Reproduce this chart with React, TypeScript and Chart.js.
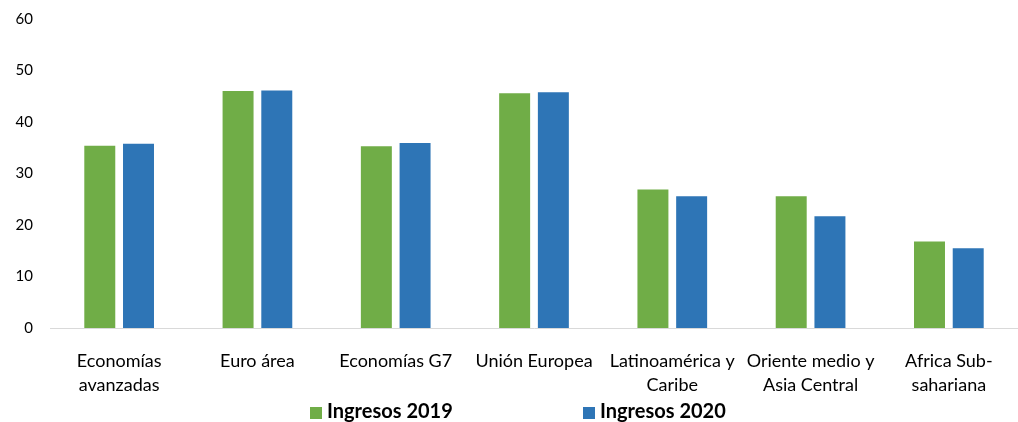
import React, { useEffect, useRef } from "react";
import { Chart, registerables } from "chart.js";

Chart.register(...registerables);

const categories: string[][] = [
  ["Economías", "avanzadas"],
  ["Euro área"],
  ["Economías G7"],
  ["Unión Europea"],
  ["Latinoamérica y", "Caribe"],
  ["Oriente medio y", "Asia Central"],
  ["Africa Sub-", "sahariana"],
];
const ingresos2019 = [35.4, 46.0, 35.3, 45.6, 26.9, 25.6, 16.8];
const ingresos2020 = [35.8, 46.1, 35.9, 45.8, 25.6, 21.7, 15.5];
const seriesLabels = ["Ingresos 2019", "Ingresos 2020"];
const yTicks = { min: 0, max: 60, step: 10 };

const GREEN = "#70AD47";
const BLUE = "#2E75B6";
const FONT = "Lato, 'Open Sans', sans-serif";

export default function App() {
  const ref = useRef<HTMLCanvasElement | null>(null);
  useEffect(() => {
    document.body.style.margin = "0";
    if (!ref.current) return;
    const chart = new Chart(ref.current, {
      type: "bar",
      data: {
        labels: categories,
        datasets: [
          {
            label: seriesLabels[0],
            data: ingresos2019,
            backgroundColor: GREEN,
            categoryPercentage: 0.56,
            barPercentage: 0.8,
          },
          {
            label: seriesLabels[1],
            data: ingresos2020,
            backgroundColor: BLUE,
            categoryPercentage: 0.56,
            barPercentage: 0.8,
          },
        ],
      },
      options: {
        responsive: false,
        animation: false,
        layout: { padding: { top: 19, right: 0, bottom: 0, left: 0 } },
        plugins: {
          legend: { display: false },
          tooltip: { enabled: false },
        },
        scales: {
          x: {
            grid: { display: false },
            border: { display: true, color: "#D9D9D9", width: 1 },
            ticks: {
              color: "#000",
              font: { family: FONT, size: 18, lineHeight: 24 / 18 },
              padding: 13,
              maxRotation: 0,
              autoSkip: false,
            },
            afterFit: (axis: any) => {
              axis.height = 72;
            },
          },
          y: {
            min: yTicks.min,
            max: yTicks.max,
            grid: { display: false },
            border: { display: false },
            ticks: {
              stepSize: yTicks.step,
              color: "#000",
              font: { family: FONT, size: 15 },
              padding: 9,
            },
            afterFit: (axis: any) => {
              axis.width = 50;
            },
          },
        },
      },
    });
    return () => chart.destroy();
  }, []);

  const legendItem = (color: string, text: string) => (
    <div style={{ display: "flex", alignItems: "flex-start", lineHeight: "24px" }}>
      <span
        style={{
          display: "inline-block",
          width: 12,
          height: 12,
          marginTop: 9,
          background: color,
          marginRight: 5,
        }}
      />
      <span>{text}</span>
    </div>
  );

  return (
    <div style={{ position: "absolute", left: 0, top: 0, width: 1018, height: 422, background: "#fff", overflow: "hidden" }}>
      <canvas ref={ref} width={1018} height={400} style={{ display: "block" }} />
      <div
        style={{
          position: "absolute",
          top: 398,
          left: 0,
          width: 1018,
          fontFamily: FONT,
          fontWeight: "bold",
          fontSize: 20,
          color: "#000",
        }}
      >
        <div style={{ position: "absolute", left: 310 }}>{legendItem(GREEN, seriesLabels[0])}</div>
        <div style={{ position: "absolute", left: 583 }}>{legendItem(BLUE, seriesLabels[1])}</div>
      </div>
    </div>
  );
}
